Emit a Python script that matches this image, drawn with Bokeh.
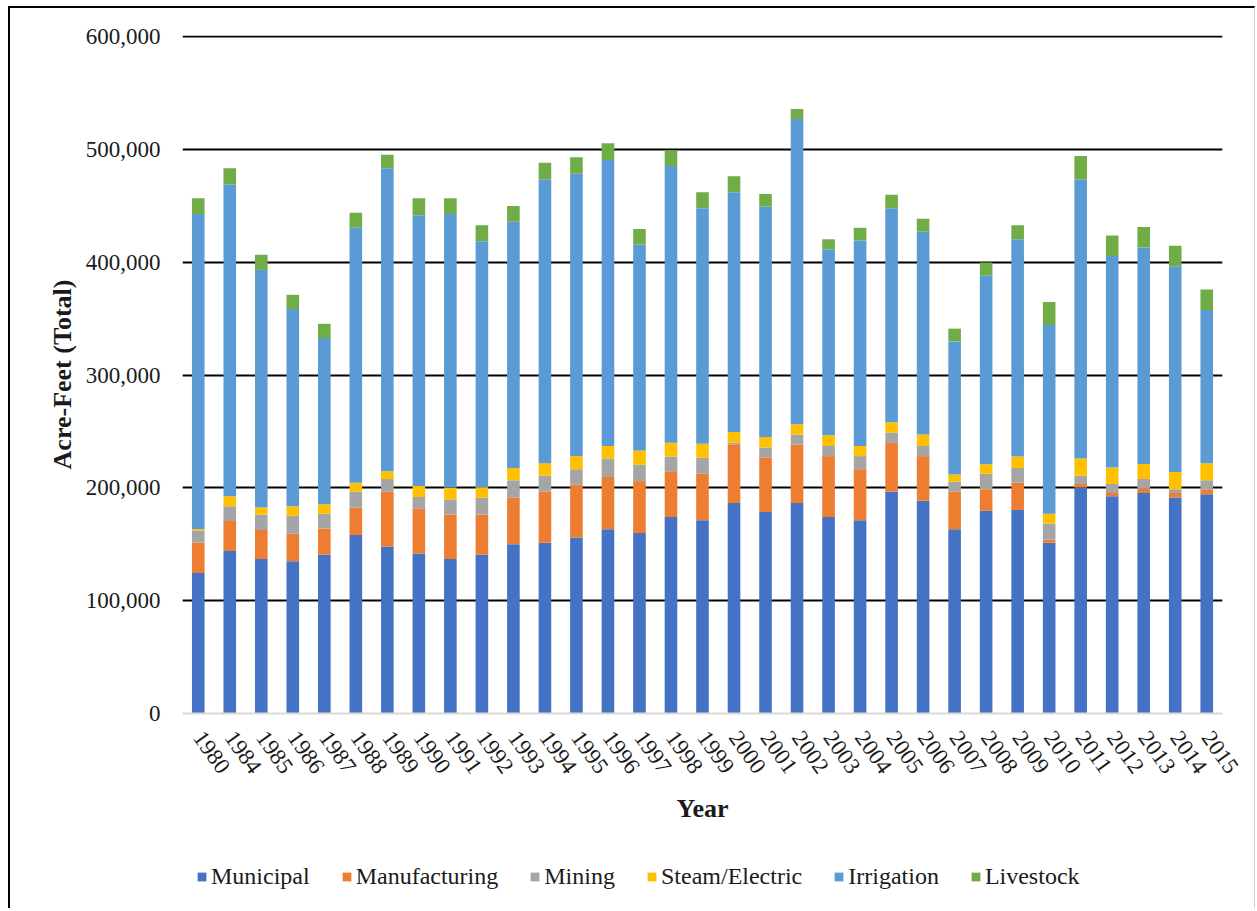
from bokeh.plotting import figure
from bokeh.layouts import column
from bokeh.models import (ColumnDataSource, Range1d, FactorRange, FixedTicker,
                          NumeralTickFormatter, Legend, LegendItem)
from bokeh.embed import file_html
from bokeh.resources import INLINE

years = ["1980", "1984", "1985", "1986", "1987", "1988", "1989", "1990", "1991",
         "1992", "1993", "1994", "1995", "1996", "1997", "1998", "1999", "2000",
         "2001", "2002", "2003", "2004", "2005", "2006", "2007", "2008", "2009",
         "2010", "2011", "2012", "2013", "2014", "2015"]

municipal = [124500, 144100, 136900, 135000, 140800, 158200, 148100, 141900, 136900,
             140800, 149900, 151300, 156000, 163300, 160000, 174200, 171300, 186500,
             178500, 186500, 174200, 171300, 196600, 188600, 163300, 179600, 180300,
             151300, 200200, 192600, 195500, 191500, 194400]
manufacturing = [26800, 26400, 25700, 24300, 23200, 24300, 48500, 39500, 39400,
                 35500, 41600, 45300, 46800, 46300, 46000, 40500, 41200, 52100,
                 48500, 51700, 53900, 45200, 43100, 39500, 33300, 19200, 24300,
                 2900, 3300, 2900, 4000, 4000, 4400]
mining = [10900, 13100, 13700, 15900, 13000, 14100, 11200, 10500, 13400,
          14900, 15200, 14100, 13700, 16300, 14500, 13000, 14100, 1400,
          8700, 9100, 9000, 11600, 9400, 9000, 9000, 13700, 13000,
          14200, 7200, 8000, 8300, 3300, 7900]
steam_electric = [1400, 9000, 6200, 8400, 8400, 8000, 6900, 9800, 10500,
                  9400, 10900, 11200, 11600, 11200, 12700, 12300, 12400, 9500,
                  9400, 9000, 9500, 9000, 9000, 10200, 6200, 8400, 10100,
                  8600, 15200, 14500, 13400, 15200, 15100]
irrigation = [279200, 276300, 210700, 174800, 147300, 225900, 268600, 240000, 242600,
              217900, 218300, 251700, 250200, 253500, 182400, 245200, 208900, 212500,
              204200, 270500, 164700, 182200, 189800, 179600, 118000, 167200, 192700,
              167300, 247300, 187500, 191900, 182500, 135800]
livestock = [13800, 14400, 13400, 12700, 12700, 13400, 12000, 14900, 13800,
             14200, 13800, 14500, 14800, 14800, 13800, 13700, 14100, 14100,
             11200, 9000, 9100, 11200, 11900, 11600, 11300, 11600, 12300,
             20300, 21000, 18100, 18100, 18100, 18100]

series = ["Municipal", "Manufacturing", "Mining", "Steam/Electric", "Irrigation", "Livestock"]
colors = ["#4472C4", "#ED7D31", "#A5A5A5", "#FFC000", "#5B9BD5", "#70AD47"]
y_ticks = [0, 100000, 200000, 300000, 400000, 500000, 600000]

source = ColumnDataSource(data={
    "year": years,
    "Municipal": municipal,
    "Manufacturing": manufacturing,
    "Mining": mining,
    "Steam/Electric": steam_electric,
    "Irrigation": irrigation,
    "Livestock": livestock,
})

FONT = "Liberation Serif"
TXT = "#1a1a1a"

# ---- main chart ----
p = figure(width=1244, height=832, x_range=FactorRange(factors=years),
           y_range=Range1d(0, 600900), output_backend="svg", toolbar_location=None,
           min_border_left=172, min_border_top=27, min_border_bottom=127,
           min_border_right=32)
p.outline_line_color = None
p.background_fill_color = "white"

p.vbar_stack(series, x="year", width=0.4, color=colors, line_color=None, source=source)

p.xgrid.grid_line_color = None
p.ygrid.ticker = FixedTicker(ticks=y_ticks[1:])
p.ygrid.grid_line_color = "black"
p.ygrid.grid_line_width = 2

p.yaxis.ticker = FixedTicker(ticks=y_ticks)
p.yaxis.formatter = NumeralTickFormatter(format="0,0")
p.yaxis.axis_line_color = None
p.yaxis.major_tick_line_color = None
p.yaxis.minor_tick_line_color = None
p.yaxis.major_label_standoff = 16
p.yaxis.major_label_text_font = FONT
p.yaxis.major_label_text_font_size = "23px"
p.yaxis.major_label_text_color = TXT
p.yaxis.axis_label = "Acre-Feet (Total)"
p.yaxis.axis_label_text_font = FONT
p.yaxis.axis_label_text_font_style = "bold"
p.yaxis.axis_label_text_font_size = "26px"
p.yaxis.axis_label_text_color = TXT
p.yaxis.axis_label_standoff = 6

p.xaxis.axis_line_color = "#d9d9d9"
p.xaxis.axis_line_width = 2
p.xaxis.major_tick_line_color = None
p.xaxis.minor_tick_line_color = None
p.xaxis.major_label_orientation = -0.95
p.xaxis.major_label_standoff = 14
p.xaxis.major_label_text_font = FONT
p.xaxis.major_label_text_font_size = "23px"
p.xaxis.major_label_text_color = TXT
p.xaxis.axis_label = "Year"
p.xaxis.axis_label_text_font = FONT
p.xaxis.axis_label_text_font_style = "bold"
p.xaxis.axis_label_text_font_size = "26px"
p.xaxis.axis_label_text_color = TXT
p.xaxis.axis_label_standoff = 11

# ---- legend strip (its zero-width bars fall outside its view; only the legend shows) ----
p2 = figure(width=1244, height=68, x_range=FactorRange(factors=years),
            y_range=Range1d(-1200000, -600000), output_backend="svg",
            toolbar_location=None, x_axis_type=None, y_axis_type=None, min_border=0)
p2.outline_line_color = None
p2.grid.grid_line_color = None
legend_renderers = p2.vbar_stack(series, x="year", width=0.0, color=colors,
                                 line_color=None, source=source)
items = [LegendItem(label=s, renderers=[r]) for s, r in zip(series, legend_renderers)]
legend = Legend(items=items, orientation="horizontal", location=(14, 18),
                glyph_width=11, glyph_height=11, label_standoff=4, spacing=31,
                padding=0, margin=0, border_line_color=None,
                background_fill_alpha=0,
                label_text_font=FONT, label_text_font_size="24px",
                label_text_color=TXT)
p2.add_layout(legend, "center")

layout = column(p, p2, spacing=0)
layout.styles = {"margin-left": "8px", "margin-top": "6px",
                 "border-top": "2px solid black", "border-left": "2px solid black",
                 "border-right": "1px solid #d0d0d0"}

open("out.html", "w").write(file_html(layout, INLINE))
